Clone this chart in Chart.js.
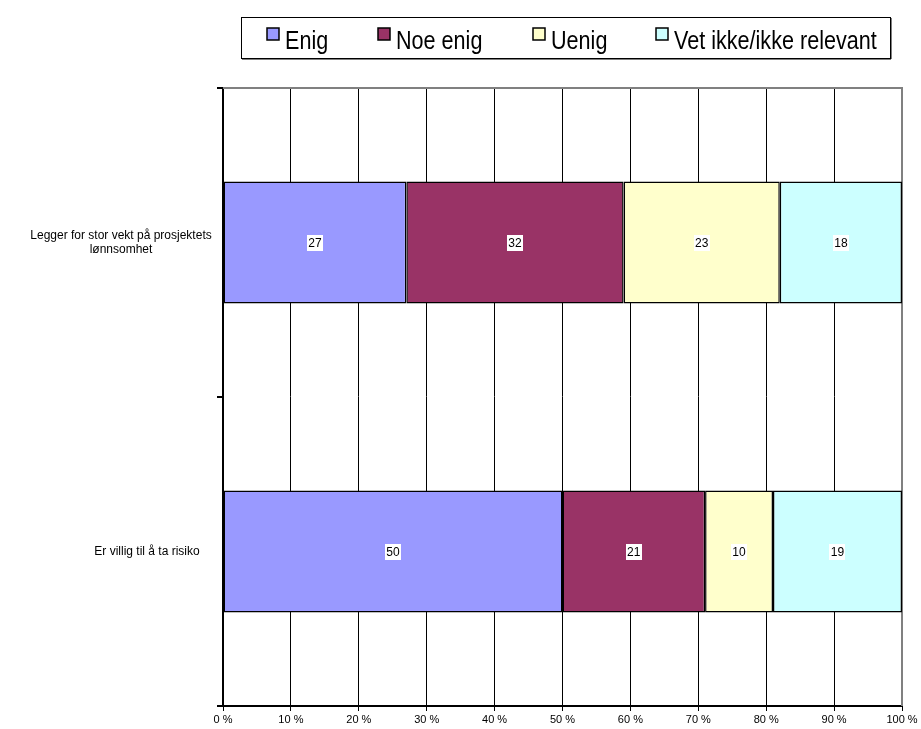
<!DOCTYPE html>
<html lang="no">
<head>
    <meta charset="UTF-8">
    <script src="https://cdn.jsdelivr.net/npm/chart.js@4.4.0/dist/chart.umd.min.js"></script>
    <style>
        body {
            margin: 0;
            background: #fff;
        }

        .chart-container {
            position: relative;
            width: 921px;
            height: 729px;
        }
    </style>
    <title>Holdning</title>
</head>
<body>
    <div class="chart-container">
        <canvas id="chartCanvas"></canvas>
    </div>

    <script>
        const categories = [
            ['Legger for stor vekt på prosjektets', 'lønnsomhet'],
            ['Er villig til å ta risiko']
        ];
        const seriesNames = ['Enig', 'Noe enig', 'Uenig', 'Vet ikke/ikke relevant'];
        const seriesColors = ['#9999FF', '#993366', '#FFFFCC', '#CCFFFF'];
        const enig = [27, 50];
        const noeEnig = [32, 21];
        const uenig = [23, 10];
        const vetIkke = [18, 19];
        const xTicks = [0, 10, 20, 30, 40, 50, 60, 70, 80, 90, 100];

        const FONT = '"Liberation Sans", Arial, sans-serif';

        // legend drawn by hand in a framed box above the plot
        const boxLegend = {
            id: 'boxLegend',
            afterDraw(chart) {
                const ctx = chart.ctx;
                ctx.save();
                ctx.fillStyle = '#fff';
                ctx.fillRect(241, 17, 649, 41);
                ctx.strokeStyle = '#000';
                ctx.lineWidth = 1;
                ctx.strokeRect(241.5, 17.5, 649, 41);
                ctx.fillStyle = '#000';
                ctx.fillRect(242, 58, 649, 1.5);
                ctx.fillRect(890, 18, 1.5, 41);

                const markerX = [267, 378, 533, 656];
                const sx = 0.83;
                ctx.font = '26px ' + FONT;
                ctx.textBaseline = 'alphabetic';
                ctx.textAlign = 'left';
                seriesNames.forEach((name, i) => {
                    ctx.fillStyle = seriesColors[i];
                    ctx.fillRect(markerX[i], 28, 12, 12);
                    ctx.strokeStyle = '#000';
                    ctx.lineWidth = 1.5;
                    ctx.strokeRect(markerX[i], 28, 12, 12);
                    ctx.fillStyle = '#000';
                    ctx.save();
                    ctx.translate(markerX[i] + 18, 49);
                    ctx.scale(sx, 1);
                    ctx.fillText(name, 0, 0);
                    ctx.restore();
                });
                ctx.restore();
            }
        };

        // gray frame on top and right of the plot area
        const plotFrame = {
            id: 'plotFrame',
            beforeDatasetsDraw(chart) {
                const { ctx, chartArea } = chart;
                ctx.save();
                ctx.strokeStyle = '#808080';
                ctx.lineWidth = 2;
                ctx.beginPath();
                ctx.moveTo(chartArea.left, chartArea.top);
                ctx.lineTo(chartArea.right, chartArea.top);
                ctx.lineTo(chartArea.right, chartArea.bottom);
                ctx.stroke();
                ctx.restore();
            }
        };

        // category labels, centred lines like the original
        const categoryLabels = {
            id: 'categoryLabels',
            afterDraw(chart) {
                const ctx = chart.ctx;
                const yScale = chart.scales.y;
                const centres = [121, 147];
                ctx.save();
                ctx.font = '12px ' + FONT;
                ctx.fillStyle = '#000';
                ctx.textAlign = 'center';
                ctx.textBaseline = 'middle';
                categories.forEach((lines, i) => {
                    const y = yScale.getPixelForValue(i);
                    const lh = 14;
                    const y0 = y - (lines.length - 1) * lh / 2;
                    lines.forEach((line, j) => ctx.fillText(line, centres[i], y0 + j * lh));
                });
                ctx.restore();
            }
        };

        // value labels on white boxes in the middle of each segment
        const valueLabels = {
            id: 'valueLabels',
            afterDatasetsDraw(chart) {
                const ctx = chart.ctx;
                ctx.save();
                ctx.font = '12px ' + FONT;
                ctx.textAlign = 'center';
                ctx.textBaseline = 'middle';
                chart.data.datasets.forEach((ds, di) => {
                    chart.getDatasetMeta(di).data.forEach((bar, i) => {
                        const text = String(ds.data[i]);
                        const x = (bar.x + bar.base) / 2;
                        const y = bar.y;
                        const w = ctx.measureText(text).width + 3;
                        ctx.fillStyle = '#fff';
                        ctx.fillRect(Math.round(x - w / 2), Math.round(y - 8), Math.round(w), 16);
                        ctx.fillStyle = '#000';
                        ctx.fillText(text, x, y + 1);
                    });
                });
                ctx.restore();
            }
        };

        const values = [enig, noeEnig, uenig, vetIkke];

        new Chart(document.getElementById('chartCanvas'), {
            type: 'bar',
            data: {
                labels: categories.map(c => c.join(' ')),
                datasets: values.map((v, i) => ({
                    label: seriesNames[i],
                    data: v,
                    backgroundColor: seriesColors[i],
                    borderColor: '#000',
                    borderWidth: 1.5,
                    borderSkipped: false,
                    barPercentage: 0.79,
                    categoryPercentage: 0.5
                }))
            },
            options: {
                indexAxis: 'y',
                responsive: true,
                maintainAspectRatio: false,
                animation: false,
                layout: {
                    padding: { top: 88, right: 19, bottom: 0, left: 0 }
                },
                plugins: {
                    legend: { display: false },
                    tooltip: { enabled: false }
                },
                scales: {
                    x: {
                        stacked: true,
                        min: 0,
                        max: 100,
                        afterBuildTicks(scale) {
                            scale.ticks = xTicks.map(v => ({ value: v }));
                        },
                        afterFit(scale) {
                            scale.height = 23;
                        },
                        ticks: {
                            color: '#000',
                            font: { family: FONT, size: 11 },
                            padding: 2,
                            maxRotation: 0,
                            callback: v => v + ' %'
                        },
                        grid: {
                            color: ctx => ctx.tick && ctx.tick.value === 100 ? '#808080' : '#000',
                            lineWidth: 1,
                            tickColor: '#000',
                            tickLength: 5
                        },
                        border: { color: '#000', width: 2 }
                    },
                    y: {
                        stacked: true,
                        afterFit(scale) {
                            scale.width = 223;
                        },
                        ticks: { display: false },
                        grid: {
                            offset: true,
                            drawOnChartArea: false,
                            drawTicks: true,
                            tickLength: 6,
                            tickColor: '#000',
                            lineWidth: 2
                        },
                        border: { color: '#000', width: 2 }
                    }
                }
            },
            plugins: [plotFrame, valueLabels, categoryLabels, boxLegend]
        });
    </script>
</body>
</html>
